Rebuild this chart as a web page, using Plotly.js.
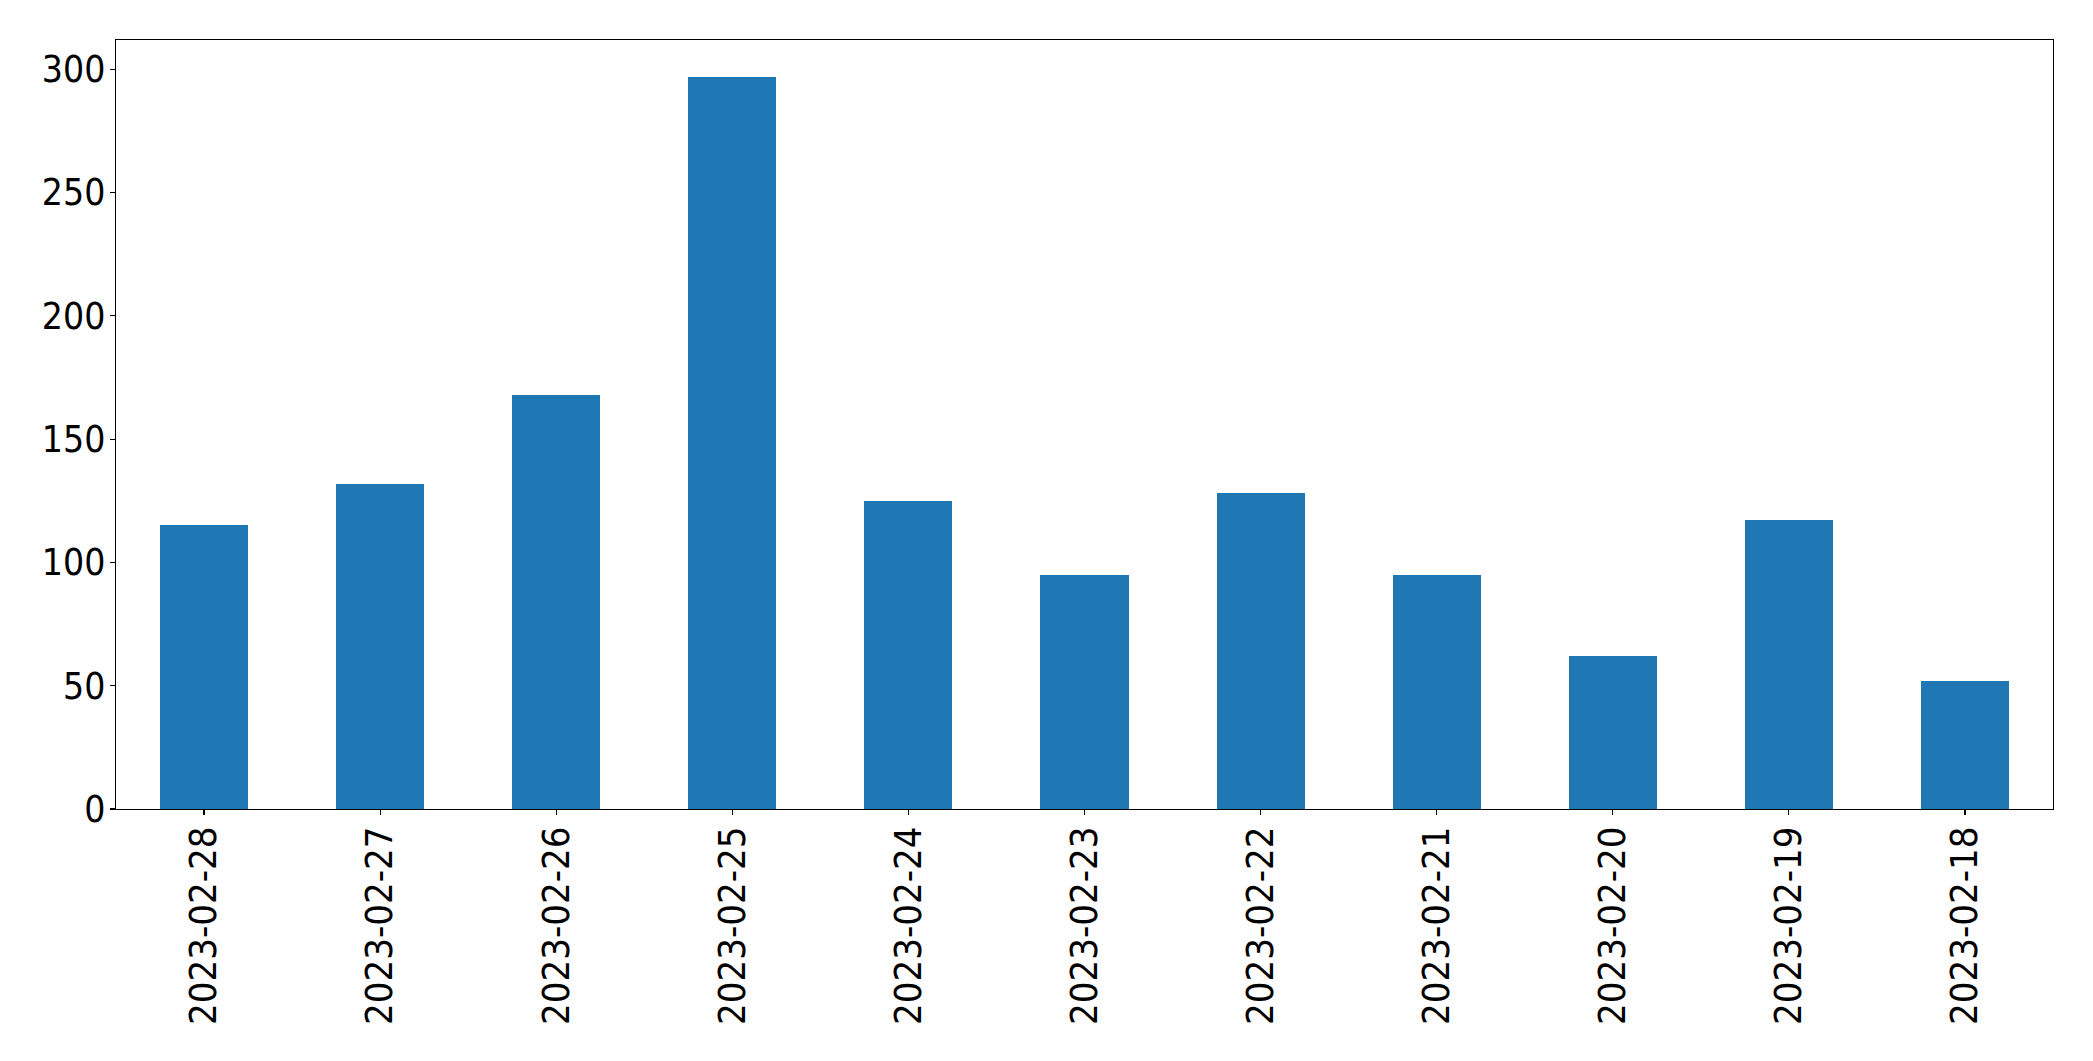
<!DOCTYPE html>
<html>
<head>
<meta charset="utf-8">
<script src="https://cdn.plot.ly/plotly-3.0.1.min.js"></script>
<style>html,body{margin:0;padding:0;background:#fff;}</style>
</head>
<body>
<div id="chart" style="width:2093px;height:1061px;"></div>
<script>
const categories = ["2023-02-28","2023-02-27","2023-02-26","2023-02-25","2023-02-24","2023-02-23","2023-02-22","2023-02-21","2023-02-20","2023-02-19","2023-02-18"];
const counts = [115, 132, 168, 297, 125, 95, 128, 95, 62, 117, 52];
const yTicks = [0, 50, 100, 150, 200, 250, 300];

const trace = {
  type: 'bar',
  x: categories,
  y: counts,
  width: 0.5,
  marker: {color: '#1f77b4', line: {width: 0}},
  hoverinfo: 'x+y'
};

const fontFam = '"DejaVu Sans Condensed", "DejaVu Sans", sans-serif';
const layout = {
  width: 2093,
  height: 1061,
  margin: {l: 116, r: 40, t: 40, b: 252, pad: 0},
  paper_bgcolor: '#ffffff',
  plot_bgcolor: '#ffffff',
  showlegend: false,
  bargap: 0,
  xaxis: {
    type: 'category',
    range: [-0.5, categories.length - 0.5],
    tickangle: -90,
    ticks: 'outside',
    ticklen: 5,
    tickwidth: 1.2,
    tickcolor: '#000',
    ticklabelstandoff: -4,
    showline: true,
    linecolor: '#000',
    linewidth: 1.2,
    mirror: true,
    showgrid: false,
    zeroline: false,
    tickfont: {family: fontFam, size: 38, color: '#000'},
    fixedrange: true
  },
  yaxis: {
    range: [0, Math.max(...counts) * 1.05],
    tickvals: yTicks,
    ticktext: yTicks.map(String),
    ticks: 'outside',
    ticklen: 5,
    tickwidth: 1.2,
    tickcolor: '#000',
    ticklabelstandoff: -3,
    showline: true,
    linecolor: '#000',
    linewidth: 1.2,
    mirror: true,
    showgrid: false,
    zeroline: false,
    tickfont: {family: fontFam, size: 37, color: '#000'},
    fixedrange: true
  }
};

Plotly.newPlot('chart', [trace], layout, {displayModeBar: false, staticPlot: true});
</script>
</body>
</html>
